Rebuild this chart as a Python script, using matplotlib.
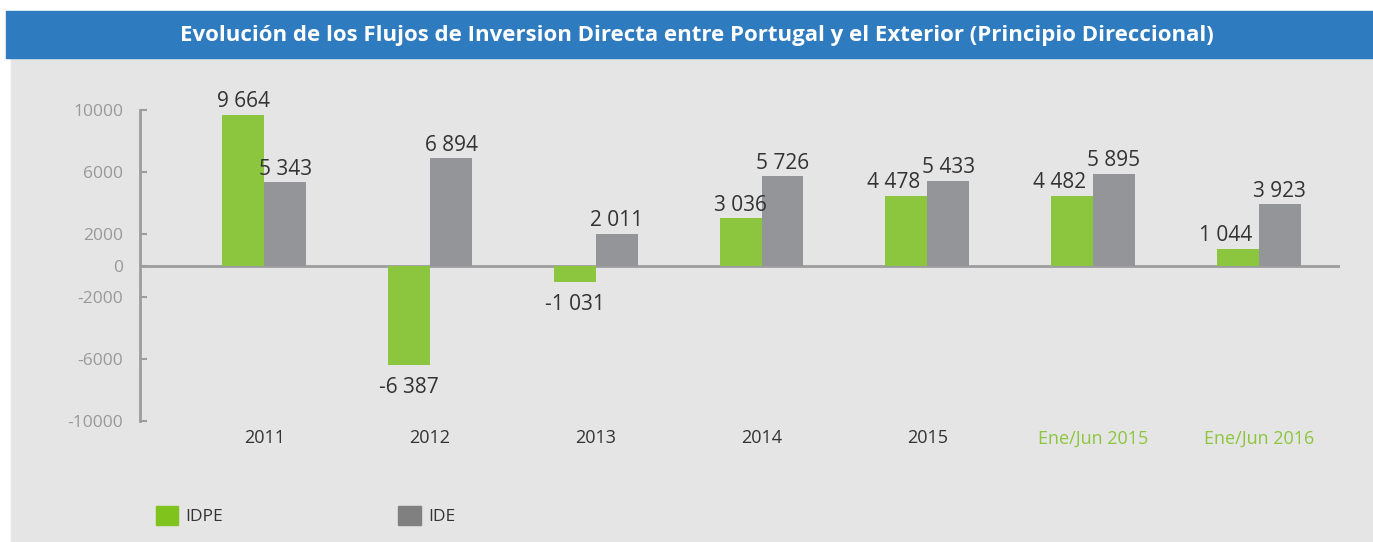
import numpy as np
import matplotlib
matplotlib.use("Agg")
import matplotlib.pyplot as plt
from matplotlib.patches import Rectangle, Patch

plt.rcParams['font.family'] = ['Open Sans', 'DejaVu Sans']

categories = ['2011', '2012', '2013', '2014', '2015', 'Ene/Jun 2015', 'Ene/Jun 2016']
idpe = [9664, -6387, -1031, 3036, 4478, 4482, 1044]
ide = [5343, 6894, 2011, 5726, 5433, 5895, 3923]
yticks = [10000, 6000, 2000, 0, -2000, -6000, -10000]

# horizontal nudge (points) of the IDPE labels, as in the original
idpe_nudge = [0, 0, 0, 0, -9, -9, -9]

green = '#8cc63f'
grey = '#939598'
axis_grey = '#9d9d9d'
text_dark = '#333333'

W, H = 1373, 542
fig = plt.figure(figsize=(W / 100, H / 100), dpi=100)
fig.patch.set_facecolor('white')

# background panel and title banner (pixel coords converted to figure fraction)
fig.add_artist(Rectangle((11 / W, 0), 1 - 11 / W, (H - 59) / H,
                         transform=fig.transFigure, color='#e5e5e5', zorder=0))
fig.add_artist(Rectangle((6 / W, (H - 58) / H), 1 - 6 / W, 47 / H,
                         transform=fig.transFigure, color='#2e7bbf', zorder=0))
fig.text(697 / W, (H - 35) / H,
         'Evolución de los Flujos de Inversion Directa entre Portugal y el Exterior (Principio Direccional)',
         ha='center', va='center', color='white', fontsize=16, fontweight='bold')

ax = fig.add_axes([140 / W, (H - 421) / H, 1200 / W, 311 / H])
ax.set_facecolor('none')

x = np.arange(len(categories))
w = 0.253
b1 = ax.bar(x - w / 2, idpe, w, color=green, zorder=2)
b2 = ax.bar(x + w / 2, ide, w, color=grey, zorder=2)

def fmt(v):
    return f"{v:,}".replace(",", " ")

for bars, vals, nudge in ((b1, idpe, idpe_nudge), (b2, ide, [0] * len(ide))):
    for r, v, dx in zip(bars, vals, nudge):
        cx = r.get_x() + r.get_width() / 2
        if v >= 0:
            ax.annotate(fmt(v), (cx, v), xytext=(dx, 2), textcoords='offset points',
                        ha='center', va='bottom', fontsize=15, color=text_dark)
        else:
            ax.annotate(fmt(v), (cx, v), xytext=(dx, -9), textcoords='offset points',
                        ha='center', va='top', fontsize=15, color=text_dark)

ax.axhline(0, color=axis_grey, lw=2, zorder=1)
ax.set_xlim(-0.75, 6.49)
ax.set_ylim(-10000, 10000)
ax.set_yticks(yticks)
ax.set_yticklabels([str(t) for t in yticks])
ax.set_xticks(x)
ax.set_xticklabels(categories)

for s in ('top', 'right', 'bottom'):
    ax.spines[s].set_visible(False)
ax.spines['left'].set_color(axis_grey)
ax.spines['left'].set_linewidth(2)

ax.tick_params(axis='y', direction='in', length=5, width=1.5, color=axis_grey,
               labelcolor='#999999', labelsize=12.5, pad=12)
ax.tick_params(axis='x', length=0, labelsize=13, labelcolor=text_dark, pad=6)
for lbl in ax.get_xticklabels()[-2:]:
    lbl.set_color(green)

handles = [Patch(color='#80c31c'), Patch(color='#808080')]
fig.legend(handles, ['IDPE', 'IDE'], ncol=2, frameon=False,
           loc='upper left', bbox_to_anchor=(147 / W, (H - 497) / H),
           fontsize=12.5, handlelength=1.3, handleheight=1.3,
           handletextpad=0.4, columnspacing=10.1, borderpad=0, labelcolor=text_dark)

fig.savefig('out.png', dpi=100)
